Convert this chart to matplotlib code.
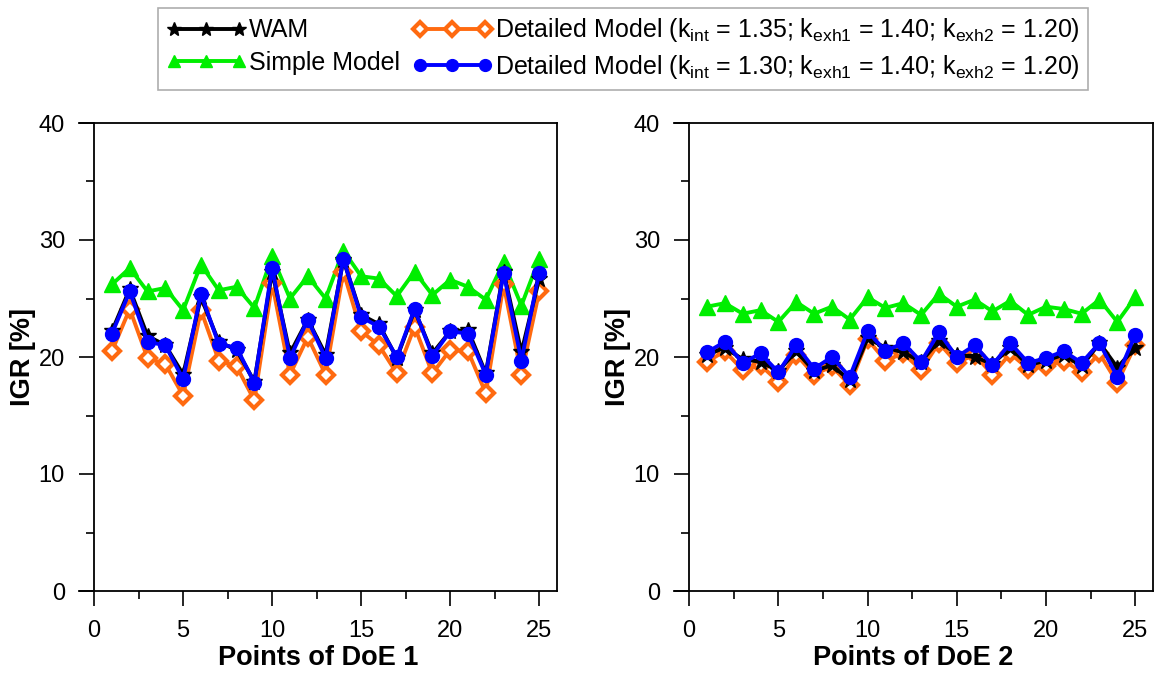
import numpy as np
import matplotlib.pyplot as plt
from matplotlib.ticker import MultipleLocator

plt.rcParams['font.family'] = ['Liberation Sans', 'DejaVu Sans']
plt.rcParams['mathtext.fontset'] = 'custom'
plt.rcParams['mathtext.rm'] = 'Liberation Sans'

# punkty planu eksperymentu
punkty = np.arange(1, 26)

# DoE 1
wam_1 = [22.2, 25.8, 21.8, 21.0, 18.5, 25.1, 21.3, 20.6, 17.9, 27.3, 20.3, 23.2, 20.2,
         28.3, 23.6, 22.8, 19.9, 24.0, 20.3, 22.2, 22.3, 18.6, 27.3, 20.4, 26.7]
simple_1 = [26.2, 27.6, 25.6, 25.9, 24.0, 27.9, 25.7, 26.0, 24.2, 28.6, 25.0, 26.9, 25.0,
            29.1, 26.9, 26.7, 25.2, 27.3, 25.3, 26.6, 26.0, 24.9, 28.1, 24.4, 28.4]
det135_1 = [20.5, 24.1, 19.9, 19.4, 16.7, 24.0, 19.7, 19.2, 16.3, 26.3, 18.5, 21.7, 18.5,
            27.3, 22.2, 21.0, 18.6, 22.6, 18.6, 20.6, 20.5, 16.9, 26.2, 18.5, 25.6]
det130_1 = [22.0, 25.6, 21.3, 21.0, 18.1, 25.4, 21.1, 20.8, 17.8, 27.6, 19.9, 23.2, 19.9,
            28.4, 23.4, 22.6, 20.0, 24.1, 20.1, 22.2, 22.0, 18.5, 27.2, 19.7, 27.2]

# DoE 2
wam_2 = [20.2, 20.8, 19.8, 19.6, 18.8, 20.5, 18.8, 19.3, 18.0, 21.6, 20.8, 20.4, 19.6,
         21.4, 20.2, 20.0, 19.4, 20.8, 19.3, 19.7, 20.2, 19.2, 21.2, 19.1, 20.8]
simple_2 = [24.3, 24.6, 23.7, 24.0, 23.0, 24.7, 23.7, 24.3, 23.2, 25.1, 24.2, 24.6, 23.6,
            25.4, 24.3, 24.9, 23.9, 24.8, 23.6, 24.3, 24.1, 23.7, 24.9, 23.0, 25.1]
det135_2 = [19.6, 20.5, 18.9, 19.3, 17.9, 20.2, 18.5, 19.2, 17.6, 21.5, 19.7, 20.3, 18.9,
            21.2, 19.5, 20.2, 18.5, 20.3, 19.0, 19.2, 19.7, 18.7, 20.3, 17.8, 21.0]
det130_2 = [20.4, 21.3, 19.5, 20.3, 18.7, 21.0, 19.0, 20.0, 18.3, 22.2, 20.5, 21.2, 19.6,
            22.1, 20.0, 21.0, 19.3, 21.2, 19.5, 19.9, 20.5, 19.5, 21.2, 18.3, 21.9]

etykiety = ['WAM', 'Simple Model',
            r'Detailed Model (k$_{\mathregular{int}}$ = 1.35; k$_{\mathregular{exh1}}$ = 1.40; k$_{\mathregular{exh2}}$ = 1.20)',
            r'Detailed Model (k$_{\mathregular{int}}$ = 1.30; k$_{\mathregular{exh1}}$ = 1.40; k$_{\mathregular{exh2}}$ = 1.20)']

fig = plt.figure(figsize=(11.58, 6.82), dpi=100)
ax1 = fig.add_axes([79 / 1158, 1 - 591 / 682, 478 / 1158, 468 / 682])
ax2 = fig.add_axes([674 / 1158, 1 - 591 / 682, 479 / 1158, 468 / 682])

lw = 2.8
for ax, wam, simple, d135, d130, nr in [(ax1, wam_1, simple_1, det135_1, det130_1, 1),
                                        (ax2, wam_2, simple_2, det135_2, det130_2, 2)]:
    l2, = ax.plot(punkty, simple, color='#00ee00', lw=lw, marker='^', ms=11, label=etykiety[1])
    l3, = ax.plot(punkty, d135, color='#ff6a10', lw=lw, marker='D', ms=8, mfc='white',
                  mew=3, label=etykiety[2])
    l1, = ax.plot(punkty, wam, color='black', lw=lw, marker='*', ms=12, label=etykiety[0])
    l4, = ax.plot(punkty, d130, color='#0000ff', lw=lw, marker='o', ms=10, label=etykiety[3])

    ax.set_xlim(-0.85, 26)
    ax.set_ylim(0, 40)
    ax.spines['left'].set_position(('data', 0))
    for s in ax.spines.values():
        s.set_linewidth(1.3)
    ax.xaxis.set_major_locator(MultipleLocator(5))
    ax.xaxis.set_minor_locator(MultipleLocator(2.5))
    ax.yaxis.set_major_locator(MultipleLocator(10))
    ax.yaxis.set_minor_locator(MultipleLocator(5))
    ax.tick_params(which='major', direction='out', length=11, width=1.2, labelsize=17, pad=10)
    ax.tick_params(which='minor', direction='out', length=6, width=1.2)
    ax.set_xlabel('Points of DoE %d' % nr, fontsize=19.5, fontweight='bold', labelpad=2)
    ax.set_ylabel('IGR [%]', fontsize=19.5, fontweight='bold', labelpad=2)

leg = fig.legend([l1, l2, l3, l4], etykiety, ncol=2, loc='upper center',
                 bbox_to_anchor=(0.538, 0.996), fontsize=18, numpoints=3,
                 handlelength=3.2, handletextpad=0.1, columnspacing=0.5,
                 labelspacing=0.35, borderpad=0.35, fancybox=False, edgecolor='#999999',
                 borderaxespad=0.2, markerscale=0.85)
leg.get_frame().set_linewidth(1.2)

plt.savefig('out.png', dpi=100)
